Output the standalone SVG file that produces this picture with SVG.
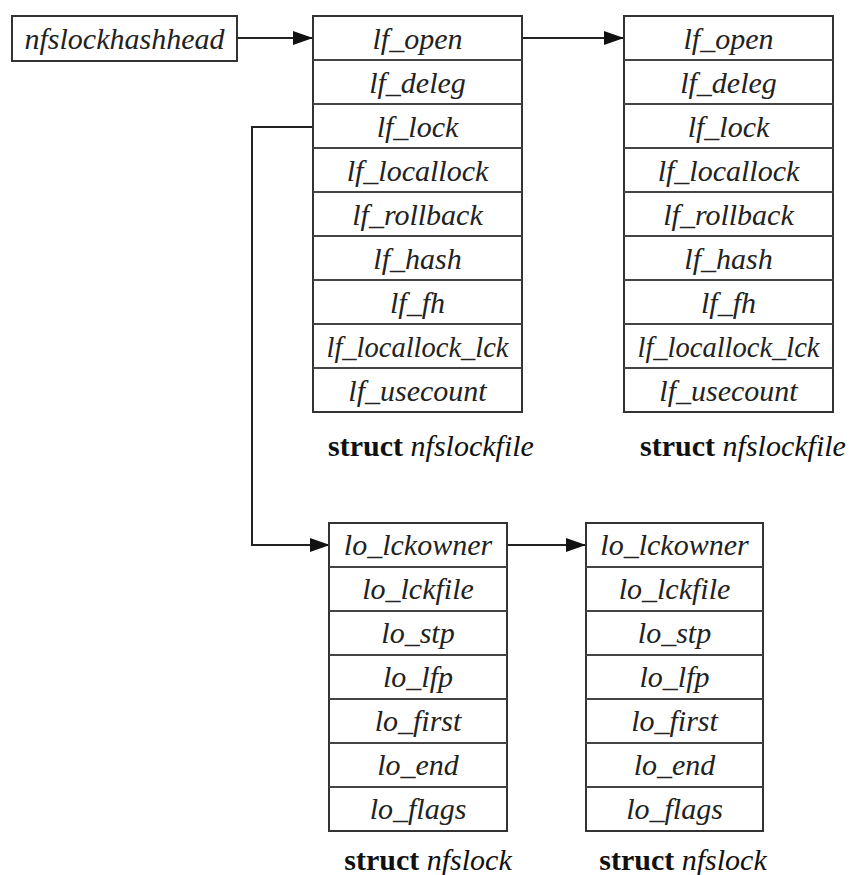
<svg xmlns="http://www.w3.org/2000/svg" width="850" height="875" viewBox="0 0 850 875">
<style>
.box{fill:#fff;stroke:#333;stroke-width:2}
.div{stroke:#444;stroke-width:2}
.f{font-family:"Liberation Serif","Times New Roman",serif;font-size:30px;font-style:italic;fill:#222;text-anchor:middle}
.lbl{font-family:"Liberation Serif","Times New Roman",serif;font-size:30px;fill:#111;text-anchor:middle}
.b{font-weight:bold;font-style:normal}
.i{font-style:italic}
.c{fill:none;stroke:#222;stroke-width:2}
</style>
<defs>
<marker id="ah" markerWidth="20" markerHeight="14" refX="19" refY="7" orient="auto" markerUnits="userSpaceOnUse">
<path d="M0,0 L20,7 L0,14 Z" fill="#111"/>
</marker>
</defs>
<rect width="850" height="875" fill="#fff"/>
<g id="connectors">
<line class="c" x1="237" y1="38" x2="312" y2="38" marker-end="url(#ah)"/>
<line class="c" x1="522" y1="38" x2="623" y2="38" marker-end="url(#ah)"/>
<polyline class="c" points="313,127 252,127 252,545 329,545" marker-end="url(#ah)"/>
<line class="c" x1="507" y1="545" x2="585" y2="545" marker-end="url(#ah)"/>
</g>
<g id="nfslockhashhead">
<rect class="box" x="12" y="16" width="225" height="45"/>
<text class="f" x="124.5" y="49">nfslockhashhead</text>
</g>
<g id="nfslockfile1">
<rect class="box" x="313" y="16" width="209" height="396"/>
<g class="div">
<line x1="313" y1="60" x2="522" y2="60"/><line x1="313" y1="104" x2="522" y2="104"/>
<line x1="313" y1="148" x2="522" y2="148"/><line x1="313" y1="192" x2="522" y2="192"/>
<line x1="313" y1="236" x2="522" y2="236"/><line x1="313" y1="280" x2="522" y2="280"/>
<line x1="313" y1="324" x2="522" y2="324"/><line x1="313" y1="368" x2="522" y2="368"/>
</g>
<text class="f" x="417.5" y="49">lf_open</text>
<text class="f" x="417.5" y="93">lf_deleg</text>
<text class="f" x="417.5" y="137">lf_lock</text>
<text class="f" x="417.5" y="181">lf_locallock</text>
<text class="f" x="417.5" y="225">lf_rollback</text>
<text class="f" x="417.5" y="269">lf_hash</text>
<text class="f" x="417.5" y="313">lf_fh</text>
<text class="f" x="417.5" y="357" font-size="27" textLength="182" lengthAdjust="spacingAndGlyphs">lf_locallock_lck</text>
<text class="f" x="417.5" y="401">lf_usecount</text>
<text class="lbl" x="431" y="456"><tspan class="b">struct</tspan> <tspan class="i">nfslockfile</tspan></text>
</g>
<g id="nfslockfile2">
<rect class="box" x="624" y="16" width="209" height="396"/>
<g class="div">
<line x1="624" y1="60" x2="833" y2="60"/><line x1="624" y1="104" x2="833" y2="104"/>
<line x1="624" y1="148" x2="833" y2="148"/><line x1="624" y1="192" x2="833" y2="192"/>
<line x1="624" y1="236" x2="833" y2="236"/><line x1="624" y1="280" x2="833" y2="280"/>
<line x1="624" y1="324" x2="833" y2="324"/><line x1="624" y1="368" x2="833" y2="368"/>
</g>
<text class="f" x="728.5" y="49">lf_open</text>
<text class="f" x="728.5" y="93">lf_deleg</text>
<text class="f" x="728.5" y="137">lf_lock</text>
<text class="f" x="728.5" y="181">lf_locallock</text>
<text class="f" x="728.5" y="225">lf_rollback</text>
<text class="f" x="728.5" y="269">lf_hash</text>
<text class="f" x="728.5" y="313">lf_fh</text>
<text class="f" x="728.5" y="357" font-size="27" textLength="182" lengthAdjust="spacingAndGlyphs">lf_locallock_lck</text>
<text class="f" x="728.5" y="401">lf_usecount</text>
<text class="lbl" x="743" y="456"><tspan class="b">struct</tspan> <tspan class="i">nfslockfile</tspan></text>
</g>
<g id="nfslock1">
<rect class="box" x="329" y="523" width="178" height="308"/>
<g class="div">
<line x1="329" y1="567" x2="507" y2="567"/><line x1="329" y1="611" x2="507" y2="611"/>
<line x1="329" y1="655" x2="507" y2="655"/><line x1="329" y1="699" x2="507" y2="699"/>
<line x1="329" y1="743" x2="507" y2="743"/><line x1="329" y1="787" x2="507" y2="787"/>
</g>
<text class="f" x="418" y="555">lo_lckowner</text>
<text class="f" x="418" y="599">lo_lckfile</text>
<text class="f" x="418" y="643">lo_stp</text>
<text class="f" x="418" y="687">lo_lfp</text>
<text class="f" x="418" y="731">lo_first</text>
<text class="f" x="418" y="775">lo_end</text>
<text class="f" x="418" y="819">lo_flags</text>
<text class="lbl" x="428" y="870"><tspan class="b">struct</tspan> <tspan class="i">nfslock</tspan></text>
</g>
<g id="nfslock2">
<rect class="box" x="586" y="523" width="177" height="308"/>
<g class="div">
<line x1="586" y1="567" x2="763" y2="567"/><line x1="586" y1="611" x2="763" y2="611"/>
<line x1="586" y1="655" x2="763" y2="655"/><line x1="586" y1="699" x2="763" y2="699"/>
<line x1="586" y1="743" x2="763" y2="743"/><line x1="586" y1="787" x2="763" y2="787"/>
</g>
<text class="f" x="674.5" y="555">lo_lckowner</text>
<text class="f" x="674.5" y="599">lo_lckfile</text>
<text class="f" x="674.5" y="643">lo_stp</text>
<text class="f" x="674.5" y="687">lo_lfp</text>
<text class="f" x="674.5" y="731">lo_first</text>
<text class="f" x="674.5" y="775">lo_end</text>
<text class="f" x="674.5" y="819">lo_flags</text>
<text class="lbl" x="683" y="870"><tspan class="b">struct</tspan> <tspan class="i">nfslock</tspan></text>
</g>
</svg>
